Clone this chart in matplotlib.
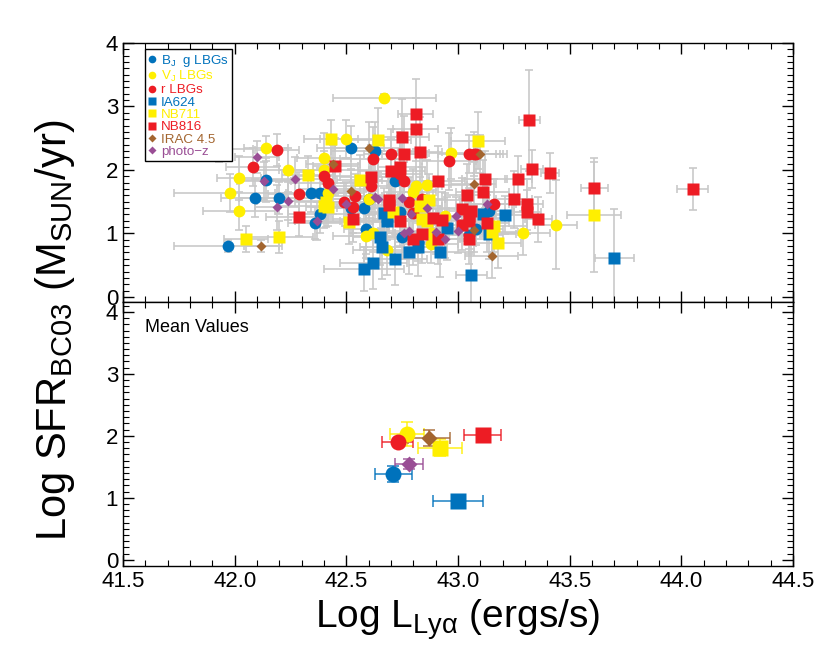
import matplotlib
matplotlib.use("Agg")
import matplotlib.pyplot as plt
from matplotlib.lines import Line2D
from matplotlib.ticker import MultipleLocator, FormatStrFormatter

plt.rcParams['font.family'] = ['Liberation Sans', 'DejaVu Sans']
plt.rcParams['mathtext.fontset'] = 'custom'
plt.rcParams['mathtext.rm'] = 'Liberation Sans'
plt.rcParams['mathtext.it'] = 'Liberation Sans:italic'
plt.rcParams['mathtext.default'] = 'regular'

# ---------------- data (top panel) ----------------
bj_x = [41.97, 42.09, 42.14, 42.20, 42.34, 42.38, 42.38, 42.36, 42.52, 42.52, 42.58, 42.60, 42.59, 42.63, 42.72, 42.74, 42.68, 42.75, 42.82, 43.05, 43.08, 43.14]
bj_y = [0.80, 1.56, 1.84, 1.56, 1.63, 1.63, 1.30, 1.16, 2.35, 1.40, 1.40, 1.54, 1.07, 2.30, 1.82, 1.34, 1.20, 0.95, 0.87, 0.98, 1.07, 1.36]
bj_xe = [0.24, 0.15, 0.12, 0.18, 0.10, 0.20, 0.14, 0.12, 0.15, 0.10, 0.12, 0.18, 0.10, 0.20, 0.15, 0.10, 0.12, 0.14, 0.10, 0.15, 0.12, 0.10]
bj_ye = [0.10, 0.30, 0.35, 0.25, 0.30, 0.40, 0.30, 0.25, 0.35, 0.30, 0.35, 0.30, 0.40, 0.45, 0.35, 0.40, 0.30, 0.35, 0.30, 0.30, 0.25, 0.30]

vj_x = [41.98, 42.02, 42.02, 42.14, 42.24, 42.40, 42.40, 42.42, 42.50, 42.59, 42.60, 42.62, 42.67, 42.68, 42.81, 42.86, 42.80, 42.88, 42.88, 42.94, 42.97, 43.29, 43.44]
vj_y = [1.64, 1.87, 1.36, 2.34, 2.00, 2.19, 2.00, 1.64, 2.49, 0.96, 1.55, 1.01, 3.14, 0.74, 1.75, 1.76, 1.66, 1.01, 0.83, 1.28, 2.26, 1.01, 1.14]
vj_xe = [0.25, 0.10, 0.16, 0.10, 0.15, 0.12, 0.20, 0.14, 0.12, 0.15, 0.20, 0.10, 0.23, 0.15, 0.12, 0.18, 0.10, 0.14, 0.12, 0.15, 0.10, 0.12, 0.095]
vj_ye = [0.30, 0.35, 0.30, 0.20, 0.35, 0.40, 0.30, 0.35, 0.30, 0.35, 0.40, 0.30, 0.05, 0.40, 0.50, 0.40, 0.35, 0.30, 0.30, 0.35, 0.40, 0.35, 0.70]

r_x = [41.93, 42.08, 42.19, 42.29, 42.40, 42.42, 42.49, 42.53, 42.54, 42.61, 42.62, 42.70, 42.74, 42.76, 42.78, 42.84, 42.80, 42.96, 43.05, 43.07, 43.08, 43.16]
r_y = [2.33, 2.04, 2.31, 1.62, 1.91, 1.80, 1.50, 1.41, 1.59, 1.74, 2.17, 2.25, 1.93, 1.82, 1.49, 1.55, 1.32, 2.14, 2.25, 2.25, 2.25, 1.46]
r_xe = [0.15, 0.12, 0.10, 0.14, 0.12, 0.18, 0.10, 0.15, 0.12, 0.20, 0.15, 0.12, 0.10, 0.14, 0.12, 0.10, 0.15, 0.12, 0.14, 0.10, 0.12, 0.10]
r_ye = [0.20, 0.30, 0.25, 0.35, 0.30, 0.35, 0.30, 0.40, 0.35, 0.45, 0.50, 0.40, 0.60, 0.45, 0.40, 0.50, 0.40, 0.45, 0.30, 0.35, 0.30, 0.40]

ia_x = [42.58, 42.62, 42.65, 42.66, 42.67, 42.68, 42.72, 42.78, 42.82, 42.92, 42.95, 43.06, 43.11, 43.14, 43.21, 43.70]
ia_y = [0.44, 0.53, 0.95, 0.78, 1.32, 1.20, 0.59, 0.71, 0.78, 0.71, 1.08, 0.34, 1.30, 0.99, 1.29, 0.62]
ia_xe = [0.18, 0.15, 0.12, 0.10, 0.12, 0.15, 0.14, 0.12, 0.10, 0.15, 0.12, 0.07, 0.10, 0.12, 0.15, 0.087]
ia_ye = [0.35, 0.40, 0.45, 0.50, 0.40, 0.45, 0.40, 0.35, 0.45, 0.40, 0.50, 0.50, 0.35, 0.40, 0.30, 0.77]

n711_x = [42.05, 42.20, 42.33, 42.41, 42.40, 42.42, 42.43, 42.51, 42.56, 42.64, 42.71, 42.83, 42.87, 42.84, 42.86, 43.09, 43.16, 43.15, 43.18, 43.61]
n711_y = [0.91, 0.94, 1.92, 1.50, 1.43, 1.41, 2.49, 1.18, 1.84, 2.47, 1.34, 1.44, 1.53, 1.22, 1.19, 2.46, 1.11, 1.03, 0.85, 1.29]
n711_xe = [0.10, 0.15, 0.12, 0.14, 0.20, 0.10, 0.12, 0.15, 0.10, 0.15, 0.12, 0.10, 0.14, 0.12, 0.10, 0.12, 0.15, 0.12, 0.10, 0.12]
n711_ye = [0.20, 0.25, 0.30, 0.40, 0.35, 0.30, 0.30, 0.35, 0.40, 0.50, 0.40, 0.45, 0.40, 0.35, 0.40, 0.45, 0.40, 0.35, 0.40, 0.90]

n816_x = [42.29, 42.45, 42.53, 42.61, 42.69, 42.69, 42.70, 42.74, 42.75, 42.76, 42.74, 42.81, 42.81, 42.83, 42.84, 42.80, 42.89, 42.91, 42.91, 42.93,
          43.02, 43.02, 43.04, 43.05, 43.06, 43.05, 43.05, 43.11, 43.12, 43.13, 43.25, 43.27, 43.31, 43.31, 43.32, 43.33, 43.36, 43.41, 43.61, 44.05]
n816_y = [1.26, 2.06, 1.22, 1.89, 1.53, 1.45, 1.98, 2.05, 2.52, 2.25, 1.20, 2.88, 2.64, 2.29, 0.99, 0.91, 1.24, 1.83, 0.92, 1.21,
          1.38, 1.14, 1.60, 1.27, 1.36, 1.20, 0.92, 1.65, 1.85, 1.16, 1.54, 1.86, 1.46, 1.34, 2.78, 2.02, 1.22, 1.95, 1.72, 1.70]
n816_xe = [0.15, 0.10, 0.12, 0.14, 0.10, 0.12, 0.15, 0.10, 0.12, 0.10, 0.12, 0.08, 0.10, 0.10, 0.12, 0.14, 0.10, 0.12, 0.10, 0.15,
           0.10, 0.12, 0.10, 0.12, 0.10, 0.08, 0.10, 0.12, 0.10, 0.10, 0.08, 0.06, 0.07, 0.06, 0.045, 0.05, 0.06, 0.04, 0.06, 0.07]
n816_ye = [0.30, 0.45, 0.35, 0.50, 0.40, 0.45, 0.50, 0.55, 0.60, 0.60, 0.40, 0.55, 0.50, 0.55, 0.45, 0.40, 0.45, 0.55, 0.40, 0.45,
           0.50, 0.40, 0.50, 0.45, 0.40, 0.45, 0.40, 0.50, 0.45, 0.45, 0.45, 0.36, 0.40, 0.35, 0.80, 0.30, 0.35, 0.32, 0.40, 0.33]

irac_x = [42.12, 42.44, 42.52, 42.60, 43.07, 43.10, 43.07, 43.15]
irac_y = [0.80, 2.09, 1.67, 2.35, 1.78, 2.25, 1.06, 0.65]
irac_xe = [0.08, 0.12, 0.10, 0.15, 0.10, 0.12, 0.10, 0.12]
irac_ye = [0.10, 0.30, 0.35, 0.40, 0.35, 0.30, 0.35, 0.35]

pz_x = [42.10, 42.13, 42.19, 42.24, 42.27, 42.37, 42.44, 42.50, 42.63, 42.64, 42.75, 42.79, 42.86, 42.99, 43.00, 42.94, 42.90, 42.76, 42.78, 43.13]
pz_y = [2.21, 1.83, 1.41, 1.51, 1.86, 1.20, 1.70, 1.46, 1.58, 1.55, 1.56, 1.31, 1.40, 1.27, 1.04, 0.92, 1.03, 1.00, 1.04, 1.46]
pz_xe = [0.10, 0.12, 0.10, 0.14, 0.12, 0.10, 0.15, 0.12, 0.10, 0.12, 0.10, 0.12, 0.14, 0.10, 0.12, 0.10, 0.12, 0.10, 0.14, 0.10]
pz_ye = [0.25, 0.30, 0.35, 0.30, 0.35, 0.30, 0.40, 0.35, 0.40, 0.35, 0.40, 0.35, 0.40, 0.30, 0.35, 0.30, 0.35, 0.40, 0.35, 0.30]

# ---------------- data (bottom panel: mean values) ----------------
labels = [r'B$_J$  g LBGs', r'V$_J$ LBGs', 'r LBGs', 'IA624', 'NB711', 'NB816', 'IRAC 4.5', 'photo\u2212z']
mean_x = [42.71, 42.77, 42.73, 43.00, 42.92, 43.11, 42.87, 42.78]
mean_y = [1.38, 2.03, 1.90, 0.95, 1.81, 2.02, 1.97, 1.54]
mean_xe = [0.082, 0.076, 0.07, 0.113, 0.10, 0.083, 0.096, 0.062]
mean_ye = [0.13, 0.20, 0.05, 0.04, 0.14, 0.08, 0.13, 0.08]

BLUE = '#0072BC'
YELLOW = '#FFEF00'
RED = '#ED1C24'
BROWN = '#A3652F'
PURPLE = '#9A4E95'
colors = [BLUE, YELLOW, RED, BLUE, YELLOW, RED, BROWN, PURPLE]
markers = ['o', 'o', 'o', 's', 's', 's', 'D', 'D']
top_ms = [8.5, 8.5, 8.5, 8.0, 8.0, 8.0, 5.5, 5.5]
mean_ms = [11.5, 11.5, 11.5, 11.0, 11.0, 11.0, 8.5, 8.5]

series = [
    (bj_x, bj_y, bj_xe, bj_ye),
    (vj_x, vj_y, vj_xe, vj_ye),
    (r_x, r_y, r_xe, r_ye),
    (ia_x, ia_y, ia_xe, ia_ye),
    (n711_x, n711_y, n711_xe, n711_ye),
    (n816_x, n816_y, n816_xe, n816_ye),
    (irac_x, irac_y, irac_xe, irac_ye),
    (pz_x, pz_y, pz_xe, pz_ye),
]

fig = plt.figure(figsize=(8.3, 6.45), dpi=100)
L, R = 123 / 830, 793 / 830
ax1 = fig.add_axes([L, 1 - 302 / 645, R - L, (302 - 43) / 645])
ax2 = fig.add_axes([L, 1 - 566 / 645, R - L, (566 - 302) / 645])

GRAY = '#c9c9c9'
for (x, y, xe, ye) in series:
    ax1.errorbar(x, y, xerr=xe, yerr=ye, fmt='none', ecolor=GRAY, elinewidth=1.2,
                 capsize=3, capthick=1.2, zorder=1)
for i, (x, y, xe, ye) in enumerate(series):
    ax1.plot(x, y, linestyle='none', marker=markers[i], ms=top_ms[i], color=colors[i],
             mec='none', zorder=2 + i)

handles = [Line2D([], [], linestyle='none', marker=markers[i], ms=5.5 if i < 6 else 4.5,
                  color=colors[i], mec='none') for i in range(8)]
leg = ax1.legend(handles, labels, loc='upper left', bbox_to_anchor=(0.033, 0.975),
                 fontsize=9.6, frameon=True, fancybox=False, edgecolor='black',
                 framealpha=1, borderpad=0.25, handlelength=0.6, handletextpad=0.35,
                 labelspacing=0.0, borderaxespad=0)
leg.get_frame().set_linewidth(1.0)
for t, c in zip(leg.get_texts(), colors):
    t.set_color(c)
leg.set_zorder(20)

for i in range(8):
    ax2.errorbar(mean_x[i], mean_y[i], xerr=mean_xe[i], yerr=mean_ye[i], fmt='none',
                 ecolor=colors[i], alpha=0.7, elinewidth=1.4, capsize=4, capthick=1.4, zorder=1 + i)
for i in range(8):
    ax2.plot(mean_x[i], mean_y[i], linestyle='none', marker=markers[i], ms=mean_ms[i],
             color=colors[i], mec='none', zorder=10 + i)

ax2.text(0.033, 0.905, 'Mean Values', transform=ax2.transAxes, fontsize=13,
         ha='left', va='center')

for ax in (ax1, ax2):
    ax.set_xlim(41.5, 44.5)
    ax.xaxis.set_major_locator(MultipleLocator(0.5))
    ax.xaxis.set_minor_locator(MultipleLocator(0.1))
    ax.yaxis.set_major_locator(MultipleLocator(1))
    ax.yaxis.set_minor_locator(MultipleLocator(0.1))
    ax.tick_params(which='both', direction='in', top=True, right=True, labelsize=16)
    ax.tick_params(which='major', length=8, width=1)
    ax.tick_params(which='minor', length=4, width=0.8)
    for s in ax.spines.values():
        s.set_linewidth(1.0)

ax1.set_ylim(-0.08, 4.0)
ax2.set_ylim(-0.1, 4.16)
ax1.tick_params(labelbottom=False)
ax2.xaxis.set_major_formatter(FormatStrFormatter('%.1f'))
ax1.yaxis.set_major_formatter(FormatStrFormatter('%d'))
ax2.yaxis.set_major_formatter(FormatStrFormatter('%d'))

ax2.set_xlabel(r'Log L$_{Ly\alpha}$ (ergs/s)', fontsize=28, labelpad=4)
fig.text(0.066, 0.488, r'Log SFR$_{BC03}$ (M$_{SUN}$/yr)', fontsize=30,
         rotation=90, ha='center', va='center')

fig.savefig('out.png', dpi=100)
